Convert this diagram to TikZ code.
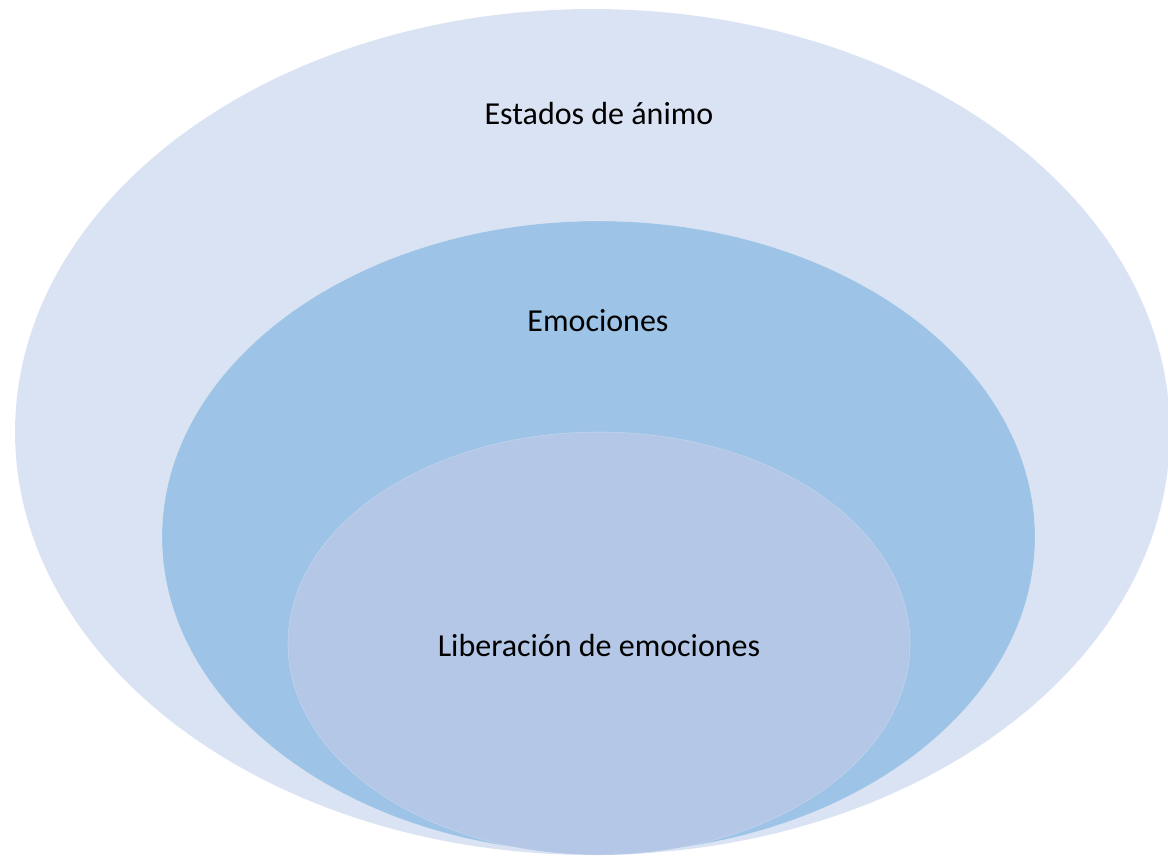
\documentclass[tikz,border=0pt]{standalone}
\usepackage{fontspec}
\setmainfont{Carlito}
\definecolor{outerc}{HTML}{DAE3F3}
\definecolor{midc}{HTML}{9DC3E6}
\definecolor{innerc}{HTML}{B4C7E7}
\begin{document}
\begin{tikzpicture}[x=1pt,y=-1pt,
  ring/.style={draw=white,draw opacity=0.25,line width=0.6pt},
  lbl/.style={font=\fontsize{32}{38}\selectfont,text=black,inner sep=0pt}]
\useasboundingbox (0,0) rectangle (1168,855);
\begin{scope}
\clip (0,0) rectangle (1168,855);
\fill[white] (0,0) rectangle (1168,855);
\path[ring,fill=outerc] (592.5,432) ellipse [x radius=577.5, y radius=423];
\path[ring,fill=midc] (598.5,537) ellipse [x radius=436.5, y radius=316];
\path[ring,fill=innerc] (599,643.5) ellipse [x radius=311, y radius=211.5];
\end{scope}
\node[lbl] (outer) at (599,114) {Estados de ánimo};
\node[lbl] (mid) at (598,321) {Emociones};
\node[lbl] (inner) at (599,645) {Liberación de emociones};
\end{tikzpicture}
\end{document}
